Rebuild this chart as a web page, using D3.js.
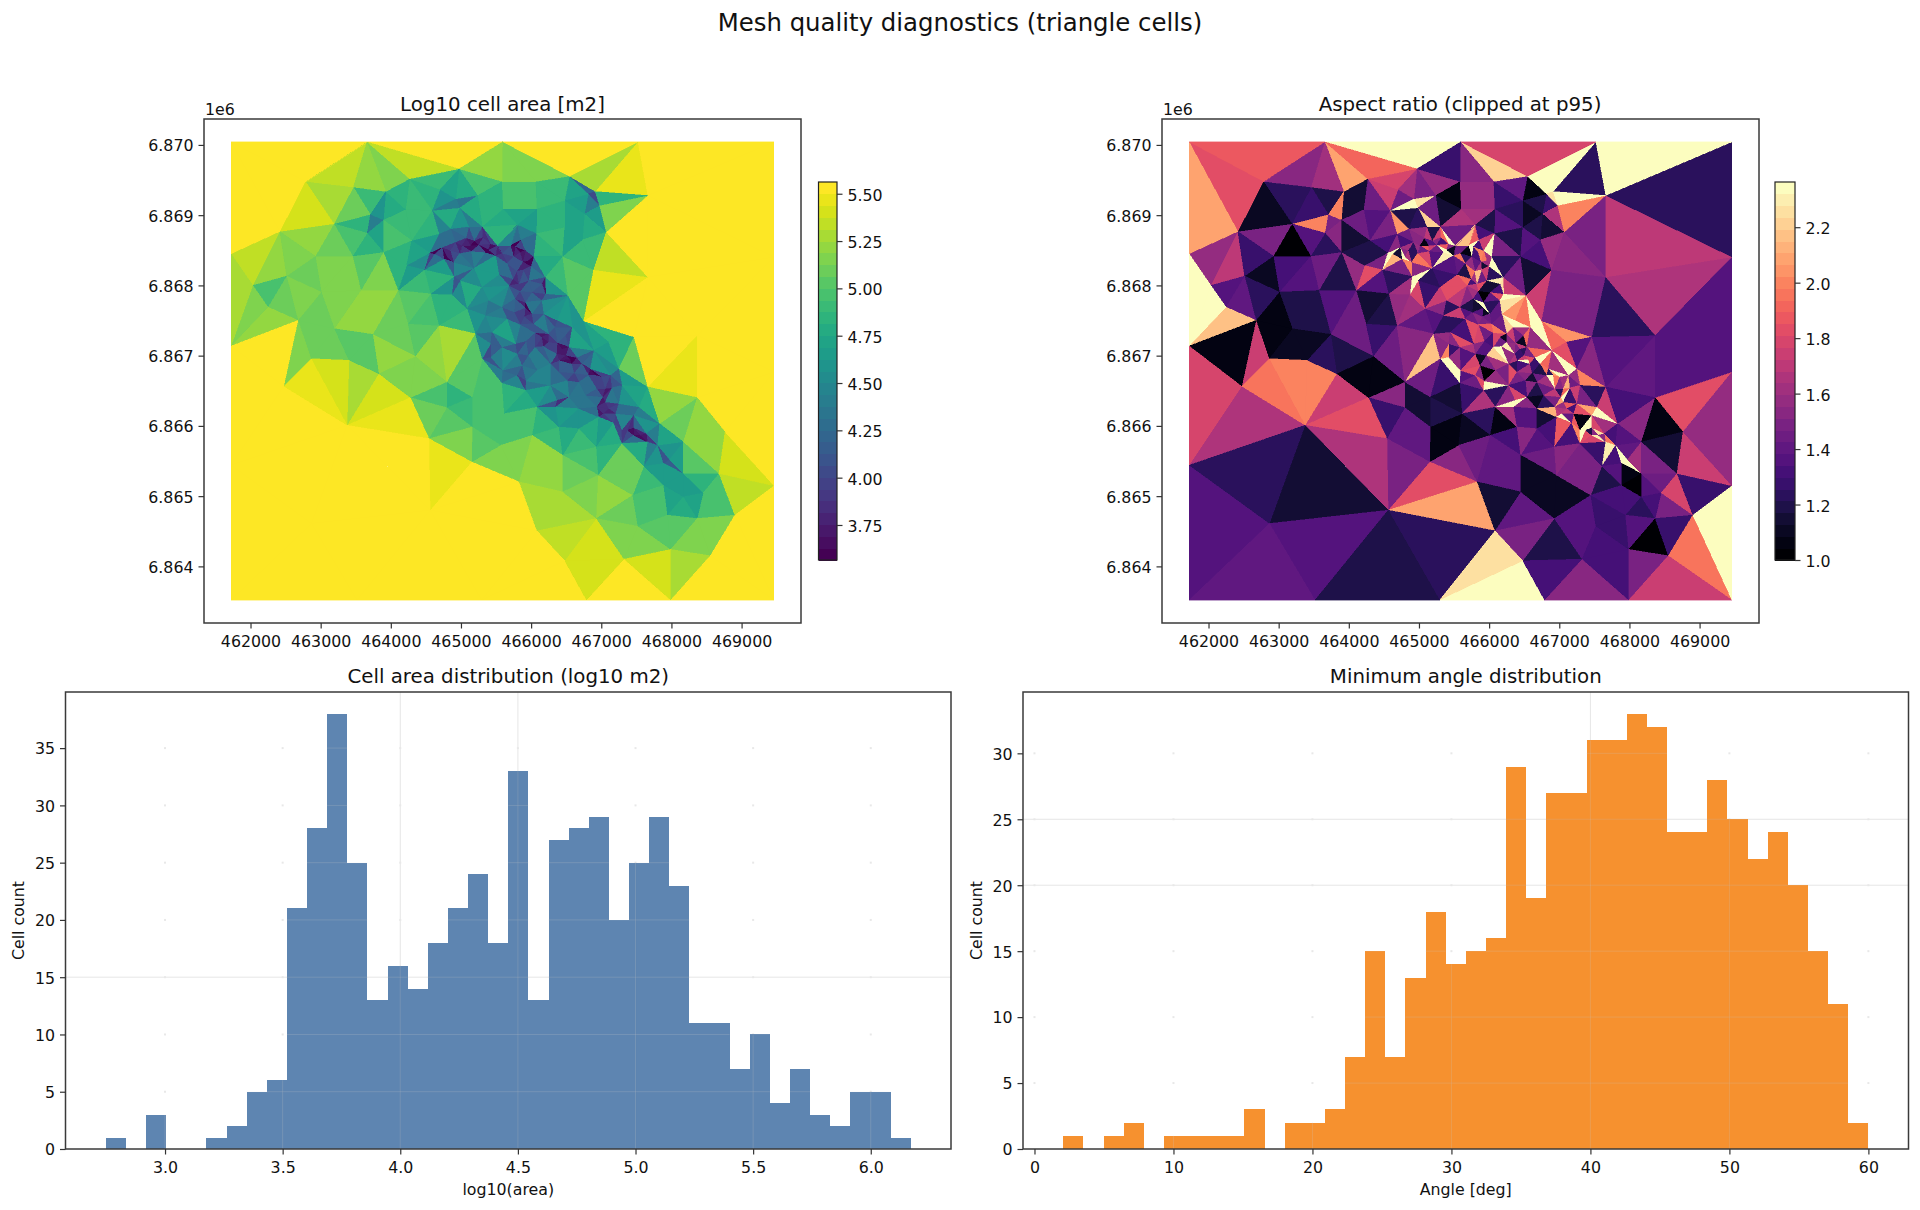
<!DOCTYPE html>
<html>
<head>
<meta charset="utf-8">
<script src="https://cdn.jsdelivr.net/npm/d3@7"></script>
<style>
html,body{margin:0;padding:0;background:#fff}
svg{display:block}
text{font-family:"DejaVu Sans",sans-serif;fill:#111}
</style>
</head>
<body>
<svg id="fig" width="1920" height="1210"></svg>
<script>
// Mesh vertices, easting / northing in metres
const meshNodes = [
[461724,6870043],[463659,6870043],[465593,6870043],[467522,6870043],[469462,6870043],
[461724,6868451],[461724,6867138],[461724,6865441],[461724,6863521],
[463518,6863521],[465294,6863521],[466789,6863521],[467990,6863521],[469462,6863521],
[469462,6868403],[469462,6866768],[469462,6865147],
[462784,6869479],[462418,6868768],[463190,6868877],[463467,6869399],[463929,6869337],[464268,6869517],[464973,6869659],
[463709,6869010],[463664,6868745],[463895,6868934],[463895,6868474],[463456,6868418],[462925,6868418],
[462514,6868133],[462034,6868000],[462249,6867692],[462677,6867503],[463010,6867906],[463574,6867929],[464104,6867929],
[463196,6867384],[463743,6867304],[464245,6867455],[464347,6866991],[463828,6866744],[463405,6866934],[462863,6866958],
[462474,6866564],[463377,6866010],[464279,6866403],[464544,6865820],[464798,6866626],[464798,6866260],[464561,6864801],[465830,6865204],
[465153,6865488],[466084,6864507],[466479,6864081],[467325,6864104],[467990,6864242],[468554,6864152],[468904,6864730],
[468678,6865322],[468453,6865047],[468368,6864682],[467945,6864730],[467522,6864573],[466930,6864682],[467449,6865014],
[466450,6865062],[466958,6865299],[466450,6865583],[467607,6865427],[467889,6865156],[468171,6865322],[468171,6864991],
[467889,6865465],[468171,6865773],[467832,6866033],[468763,6865915],[468368,6866403],[467663,6866555],[467466,6867266],
[468368,6867289],[467663,6868119],[467663,6869280],[466913,6869337],[466975,6869138],[466817,6869304],[467071,6868759],
[466732,6868650],[466546,6869555],[466067,6869479],[465587,6869479],[466479,6869209],[466761,6869020],
[466479,6868830],[466084,6869091],[465604,6869091],[465238,6869280],[464928,6869233],[464702,6869366],[464589,6869067],
[464211,6869081],[464984,6869105],[467296,6865749],[466930,6865702],[467804,6865725],
[467973,6865521],[462869,6864611],
// Vertices along the channel and the refined band around it
[464297,6868639],[464553,6868464],[464225,6868284],[464477,6868222],[464624,6868450],[464758,6868378],[464900,6868127],
[464686,6868734],[464853,6868805],[465114,6868838],[465304,6868838],[464734,6868544],[464919,6868616],[465071,6868677],
[465190,6868639],[465313,6868687],[465418,6868592],[465518,6868568],[465708,6868568],[465589,6868459],[465774,6868554],
[465855,6868649],[465922,6868497],[466036,6868412],[465884,6868341],[465998,6868274],[465798,6868203],[465656,6868317],
[465751,6868412],[464805,6868402],[464981,6868459],[465142,6868487],[465347,6868473],[465494,6868426],[465185,6868246],
[464895,6868331],[465542,6868156],[465299,6867976],[464871,6867871],[464990,6868070],[465085,6867668],
[465684,6867999],[465965,6868070],[465827,6868023],[466012,6867904],[465917,6867762],[465774,6867810],
[466155,6867786],[466207,6867881],[466183,6867596],[466373,6867502],[466525,6867857],[465394,6867786],[465347,6867573],
[465204,6867313],[465584,6867691],[465442,6867336],[465656,6867525],[465760,6867620],[465917,6867682],[466012,6867596],
[465846,6867445],[466036,6867454],[466060,6867326],[466250,6867312],[466340,6867407],[466492,6867288],[466378,6867179],
[466497,6867004],[466654,6866971],[466844,6866814],[467010,6866696],[467153,6866544],[466178,6867132],[466368,6867028],
[466406,6866933],[466582,6866885],[466616,6866753],[466820,6866720],[466939,6866530],[467024,6866411],[466939,6866269],
[467105,6866246],[466963,6866127],[467176,6866042],[467295,6865937],[467461,6865866],[467656,6865772],[467461,6865975],
[467642,6865890],[466060,6867122],[465965,6867004],[466093,6866791],[465779,6867170],[465931,6867208],[465803,6867028],
[466278,6866885],[465304,6866956],[465423,6866980],[465580,6867122],[465423,6867170],[465589,6866791],[465580,6866610],
[465803,6866720],[465874,6866862],[465931,6866639],[465161,6866411],[465161,6865985],[465613,6866174],[465922,6866506],
[466088,6866269],[466278,6866577],[466397,6866767],[466516,6866648],[466682,6866625],[466540,6866411],[466373,6866364],
[466777,6866435],[466682,6866246],[466682,6865961],[467252,6866814],[467133,6866720],[467300,6866577],[467252,6866317],
[467538,6866269],[467466,6866151],[466397,6865985],[466349,6866269],[466017,6865866],[465565,6865724],[466896,6867075],
[467105,6867194],[466749,6867492],[466587,6867407],[466540,6867122],[466891,6868222],[466449,6868412],[466159,6868023],
[464686,6867430],[464567,6867881],[465803,6868867],[466074,6868743],[466202,6868118],[467205,6866175],
// Centre line of the narrow channel
[464848,6868497],[465014,6868568],[465133,6868568],[465252,6868578],[465394,6868506],[465846,6868473],[465964,6868355],
[465893,6868222],[465741,6868094],[465846,6867919],[465903,6867558],[466155,6867265],[466250,6867193],[466440,6867099],
[466559,6866942],[466725,6866885],[466915,6866720],[467058,6866530],[467058,6866340],[467034,6866174],[467376,6865937],
[467556,6865866]
];
// Tick positions
const mapEastTicks = [462000,463000,464000,465000,466000,467000,468000,469000];
const mapNorthTicks = [6864000,6865000,6866000,6867000,6868000,6869000,6870000];
const areaBarTicks = [3.75,4.00,4.25,4.50,4.75,5.00,5.25,5.50];
const aspectBarTicks = [1.0,1.2,1.4,1.6,1.8,2.0,2.2];
// Histogram of log10(area): first bin edge, bin width, counts
const areaEdge0 = 2.748, areaBinWidth = 0.08555;
const areaCounts = [1,0,3,0,0,1,2,5,6,21,28,38,25,13,16,14,18,21,24,18,33,13,27,28,29,20,25,29,23,11,11,7,10,4,7,3,2,5,5,1];
const areaTicksX = [3.0,3.5,4.0,4.5,5.0,5.5,6.0];
const areaTicksY = [0,5,10,15,20,25,30,35];
// Histogram of minimum angle: first bin edge, bin width, counts
const angleEdge0 = 2.07, angleBinWidth = 1.448;
const angleCounts = [1,0,1,2,0,1,1,1,1,3,0,2,2,3,7,15,7,13,18,14,15,16,29,19,27,27,31,31,33,32,24,24,28,25,22,24,20,15,11,2];
const angleTicksX = [0,10,20,30,40,50,60];
const angleTicksY = [0,5,10,15,20,25,30];
// Ranges of the two colour maps
const areaRange = [3.565,5.562];
const aspectRange = [1,2.363];
const colourLevels = 32;

const svg = d3.select("#fig");
const tickFont = 15.8;

svg.append("text").attr("x",960).attr("y",31).attr("text-anchor","middle")
  .attr("font-size",24.4).text("Mesh quality diagnostics (triangle cells)");

// Triangulate once, then derive each cell's area and edge ratio
const delaunay = d3.Delaunay.from(meshNodes);
const cells = [];
for (let t = 0; t < delaunay.triangles.length; t += 3) {
  const a = meshNodes[delaunay.triangles[t]],
        b = meshNodes[delaunay.triangles[t+1]],
        c = meshNodes[delaunay.triangles[t+2]];
  const area = Math.abs((b[0]-a[0])*(c[1]-a[1])-(c[0]-a[0])*(b[1]-a[1]))/2;
  const edges = [[a,b],[b,c],[c,a]].map(([p,q]) => Math.hypot(p[0]-q[0],p[1]-q[1]));
  cells.push({pts:[a,b,c], logArea:Math.log10(area), aspect:d3.max(edges)/d3.min(edges)});
}

function quantised(range, interp) {
  const colours = d3.range(colourLevels).map(i => interp(i/(colourLevels-1)));
  return d3.scaleQuantize().domain(range).range(colours);
}

function styleAxis(g, shift) {
  g.select(".domain").remove();
  g.selectAll(".tick line").attr("stroke","#333").attr("stroke-width",1.2);
  g.selectAll(".tick text").attr("font-size",tickFont).attr("font-family",'"DejaVu Sans",sans-serif').attr("fill","#111")
    .attr("transform",`translate(0,${shift})`);
}

function frame(box) {
  svg.append("rect").attr("x",box.l).attr("y",box.t).attr("width",box.r-box.l).attr("height",box.b-box.t)
    .attr("fill","none").attr("stroke","#3a3a3a").attr("stroke-width",1.5);
}

function meshPanel(box, title, titleX, valueOf, range, interp, barTicks, barFmt, barBox) {
  const x = d3.scaleLinear().domain([461337,469847]).range([box.l,box.r]);
  const y = d3.scaleLinear().domain([6863194,6870369]).range([box.b,box.t]);
  const colour = quantised(range, interp);
  const line = d3.line().x(d=>x(d[0])).y(d=>y(d[1]));
  svg.append("g").attr("shape-rendering","crispEdges").selectAll("path").data(cells).join("path")
    .attr("d",d=>line(d.pts)+"Z")
    .attr("fill",d=>colour(Math.max(range[0],Math.min(range[1],valueOf(d)))))
    .attr("stroke",d=>colour(Math.max(range[0],Math.min(range[1],valueOf(d)))))
    .attr("stroke-width",0.4);
  frame(box);
  svg.append("g").attr("transform",`translate(0,${box.b})`)
    .call(d3.axisBottom(x).tickValues(mapEastTicks).tickFormat(d3.format("d")).tickSize(5.5).tickPadding(6)).call(styleAxis,0.8);
  svg.append("g").attr("transform",`translate(${box.l},0)`)
    .call(d3.axisLeft(y).tickValues(mapNorthTicks).tickFormat(d=>(d/1e6).toFixed(3)).tickSize(5.5).tickPadding(5)).call(styleAxis,0.8);
  svg.append("text").attr("x",box.l+1).attr("y",box.t-4.5).attr("font-size",tickFont).text("1e6");
  svg.append("text").attr("x",titleX).attr("y",111).attr("text-anchor","middle").attr("font-size",19.8).text(title);

  // Colour bar made of the same discrete levels
  const by = d3.scaleLinear().domain(range).range([barBox.b,barBox.t]);
  const step = (range[1]-range[0])/colourLevels;
  svg.append("g").attr("shape-rendering","crispEdges").selectAll("rect").data(d3.range(colourLevels)).join("rect")
    .attr("x",barBox.l).attr("width",barBox.r-barBox.l)
    .attr("y",i=>by(range[0]+(i+1)*step)).attr("height",i=>by(range[0]+i*step)-by(range[0]+(i+1)*step)+0.5)
    .attr("fill",i=>colour.range()[i]);
  svg.append("rect").attr("x",barBox.l).attr("y",barBox.t).attr("width",barBox.r-barBox.l).attr("height",barBox.b-barBox.t)
    .attr("fill","none").attr("stroke","#222").attr("stroke-width",1.2);
  svg.append("g").attr("transform",`translate(${barBox.r},0)`)
    .call(d3.axisRight(by).tickValues(barTicks).tickFormat(barFmt).tickSize(5.5).tickPadding(5)).call(styleAxis,1.5);
}

let histId = 0;
function histPanel(box, title, xLabel, labelX, counts, edge0, width, xDom, xTicks, yTop, yTicks, fill, fullX, fullY, xFmt) {
  const id = "bars"+(histId++);
  const x = d3.scaleLinear().domain(xDom).range([box.l,box.r]);
  const y = d3.scaleLinear().domain([0,yTop]).range([box.b,box.t]);
  const bins = counts.map((c,i)=>({c,i})).filter(d=>d.c>0);
  const place = s => s
    .attr("x",d=>x(edge0+d.i*width)).attr("width",d=>x(edge0+(d.i+1)*width)-x(edge0+d.i*width))
    .attr("y",d=>y(d.c)).attr("height",d=>y(0)-y(d.c));

  // Faint grid on the white ground: a few full lines, small marks at the crossings
  const grid = svg.append("g");
  fullX.forEach(v=>grid.append("line").attr("x1",x(v)).attr("x2",x(v)).attr("y1",box.t).attr("y2",box.b).attr("stroke","#e6e6e6"));
  fullY.forEach(v=>grid.append("line").attr("x1",box.l).attr("x2",box.r).attr("y1",y(v)).attr("y2",y(v)).attr("stroke","#e6e6e6"));
  xTicks.forEach(a=>yTicks.filter(v=>v>0).forEach(b=>grid.append("rect").attr("x",x(a)-1).attr("y",y(b)-1).attr("width",2).attr("height",2).attr("fill","#e8e8e8")));

  svg.append("g").attr("shape-rendering","crispEdges").selectAll("rect").data(bins).join("rect").call(place)
    .attr("fill",fill).attr("fill-opacity",0.9);

  // The same grid seen over the bars
  svg.append("clipPath").attr("id",id).selectAll("rect").data(bins).join("rect").call(place);
  const over = svg.append("g").attr("clip-path",`url(#${id})`).attr("stroke","#c8c8c8").attr("stroke-opacity",0.22);
  xTicks.forEach(v=>over.append("line").attr("x1",x(v)).attr("x2",x(v)).attr("y1",box.t).attr("y2",box.b));
  yTicks.filter(v=>v>0).forEach(v=>over.append("line").attr("x1",box.l).attr("x2",box.r).attr("y1",y(v)).attr("y2",y(v)));

  frame(box);
  svg.append("g").attr("transform",`translate(0,${box.b})`)
    .call(d3.axisBottom(x).tickValues(xTicks).tickFormat(xFmt).tickSize(5.5).tickPadding(6)).call(styleAxis,0.8);
  svg.append("g").attr("transform",`translate(${box.l},0)`)
    .call(d3.axisLeft(y).tickValues(yTicks).tickFormat(d3.format("d")).tickSize(5.5).tickPadding(5)).call(styleAxis,0.8);
  svg.append("text").attr("x",(box.l+box.r)/2).attr("y",683).attr("text-anchor","middle").attr("font-size",19.8).text(title);
  svg.append("text").attr("x",(box.l+box.r)/2).attr("y",1195).attr("text-anchor","middle").attr("font-size",15.8).text(xLabel);
  svg.append("text").attr("transform",`translate(${labelX},${(box.t+box.b)/2}) rotate(-90)`).attr("text-anchor","middle")
    .attr("font-size",15.8).text("Cell count");
}

meshPanel({l:204,r:801,t:119,b:623}, "Log10 cell area [m2]", 502.5, d=>d.logArea, areaRange, d3.interpolateViridis,
  areaBarTicks, d3.format(".2f"), {l:818.5,r:837,t:182,b:560});
meshPanel({l:1162,r:1759,t:119,b:623}, "Aspect ratio (clipped at p95)", 1460, d=>d.aspect, aspectRange, d3.interpolateMagma,
  aspectBarTicks, d3.format(".1f"), {l:1775,r:1795,t:182,b:560});

const areaSpan = areaCounts.length*areaBinWidth, angleSpan = angleCounts.length*angleBinWidth;
histPanel({l:65.5,r:951,t:692,b:1149}, "Cell area distribution (log10 m2)", "log10(area)", 24,
  areaCounts, areaEdge0, areaBinWidth, [areaEdge0-areaSpan*0.05, areaEdge0+areaSpan*1.05], areaTicksX,
  d3.max(areaCounts)*1.05, areaTicksY, "#4c78a8", [4.0,4.5], [15], d3.format(".1f"));
histPanel({l:1023,r:1908.5,t:692,b:1149}, "Minimum angle distribution", "Angle [deg]", 982,
  angleCounts, angleEdge0, angleBinWidth, [angleEdge0-angleSpan*0.05, angleEdge0+angleSpan*1.05], angleTicksX,
  d3.max(angleCounts)*1.05, angleTicksY, "#f58518", [40], [20,25], d3.format("d"));
</script>
</body>
</html>
